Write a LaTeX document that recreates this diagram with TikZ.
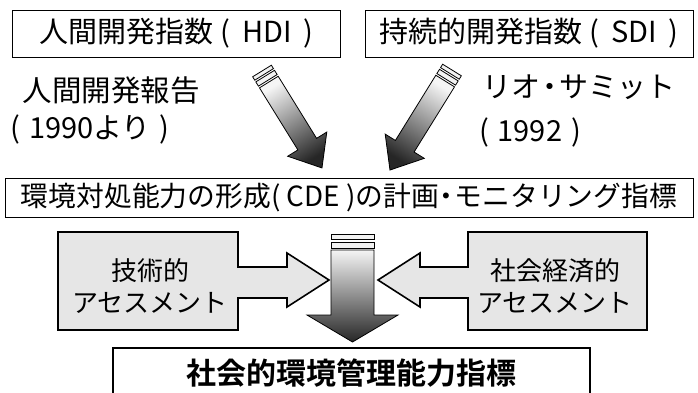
\documentclass[tikz,border=0pt]{standalone}
\usepackage{fontspec}
\setmainfont{Noto Sans CJK JP}[BoldFont={Noto Sans CJK JP Bold}]
\usepackage{graphicx}
\definecolor{boxgray}{HTML}{E6E6E6}
\newcommand\diagarrow[4]{%
\begin{scope}[shift={#1}, rotate=#2]
 \filldraw[strip] (0,-11) rectangle (4,11);
 \filldraw[strip] (6,-11) rectangle (11,11);
 \path[diagshade, shading angle=#4] (13,-11) -- ({#3-28},-11) -- ({#3-28},-23) -- (#3,0) -- ({#3-28},23) -- ({#3-28},11) -- (13,11) -- cycle;
\end{scope}}
\begin{document}
\begin{tikzpicture}[x=1pt,y=-1pt,
  tbox/.style={draw=black, line width=0.8pt, inner sep=0pt},
  lbl/.style={inner sep=0pt},
  sidebox/.style={draw=black, line width=1.6pt, fill=boxgray, line join=miter},
  bigarrow/.style={draw=black, line width=0.8pt, top color=black!4, bottom color=black!85},
  diagshade/.style={draw=black, line width=0.8pt, top color=black!4, bottom color=black!85},
  strip/.style={draw=black, line width=0.8pt, fill=black!5}]
\useasboundingbox (0,0) rectangle (698,392);
% top boxes
\node[tbox, minimum width=328pt, minimum height=47pt] (hdi) at (176.5,33.5)
  {\fontsize{29pt}{32pt}\selectfont 人間開発指数\hspace{7pt}(\hspace{12pt}HDI\hspace{12pt})};
\node[tbox, minimum width=328pt, minimum height=47pt] (sdi) at (529,33.5)
  {\fontsize{29pt}{32pt}\selectfont 持続的開発指数\hspace{7pt}(\hspace{12pt}SDI\hspace{12pt})};
% labels
\node[lbl] (hdr) at (111,90) {\fontsize{29.5pt}{34pt}\selectfont 人間開発報告};
\node[lbl] (y1990) at (90,129) {\fontsize{29pt}{34pt}\selectfont (\hspace{9pt}1990より\hspace{9pt})};
\node[lbl] (rio) at (579,87) {\fontsize{29pt}{34pt}\selectfont リオ\kern-5pt・\kern-5pt サミット};
\node[lbl] (y1992) at (530,132) {\fontsize{29pt}{34pt}\selectfont (\hspace{9pt}1992\hspace{9pt})};
% diagonal arrows
\diagarrow{(262,71)}{-58.26}{114}{32}
\diagarrow{(452,70)}{-121.8}{117.7}{-32}
% CDE box
\node[tbox, minimum width=688pt, minimum height=39pt] (cde) at (349,197.5)
  {\resizebox{656pt}{!}{\fontsize{28pt}{32pt}\selectfont 環境対処能力の形成( CDE )の計画\kern-6pt・\kern-6pt モニタリング指標}};
% side arrow boxes
\path[sidebox] (58,232) -- (238,232) -- (238,267) -- (287,267) -- (287,253) -- (329,280)
  -- (287,307) -- (287,298) -- (238,298) -- (238,330) -- (58,330) -- cycle;
\path[sidebox] (647,232) -- (468,232) -- (468,267) -- (420,267) -- (420,253) -- (378,280)
  -- (420,307) -- (420,298) -- (468,298) -- (468,330) -- (647,330) -- cycle;
\node[lbl, align=center, font=\fontsize{26pt}{32pt}\selectfont] (tech) at (150,286)
  {技術的\\アセスメント};
\node[lbl, align=center, font=\fontsize{26pt}{32pt}\selectfont] (socio) at (555,286)
  {社会経済的\\アセスメント};
% central arrow
\filldraw[strip] (331,234) rectangle (374,239);
\filldraw[strip] (331,242) rectangle (374,248);
\path[bigarrow] (331,250) -- (331,315) -- (307,315) -- (352.5,342) -- (398,315) -- (374,315) -- (374,250) -- cycle;
% bottom box
\draw[line width=1.8pt] (113,394) -- (113,348) -- (590,348) -- (590,394);
\node[lbl] (mgmt) at (351,373) {\fontsize{30pt}{34pt}\selectfont\bfseries 社会的環境管理能力指標};
\end{tikzpicture}
\end{document}
